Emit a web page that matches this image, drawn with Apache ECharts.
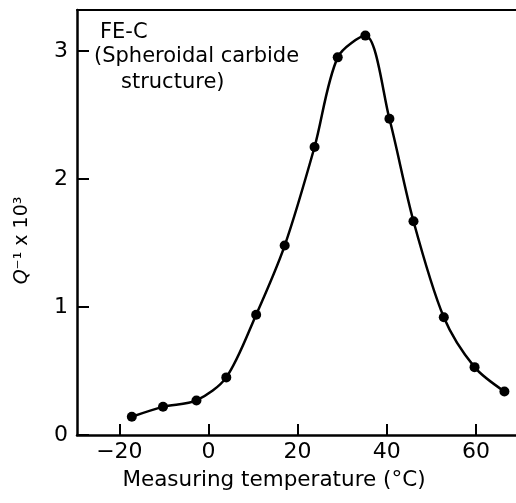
<!DOCTYPE html>
<html>
<head>
<meta charset="utf-8">
<script src="https://cdn.jsdelivr.net/npm/echarts@6/dist/echarts.min.js"></script>
<style>
html,body{margin:0;padding:0;background:#fff;}
#chart{width:516px;height:503px;}
</style>
</head>
<body>
<div id="chart"></div>
<script>
// Data
var temperatures = [-17.2, -10.2, -2.7, 4.0, 10.7, 17.1, 23.8, 29.0, 35.2, 40.6, 46.0, 52.8, 59.7, 66.4];
var qInverse = [0.143, 0.22, 0.27, 0.45, 0.94, 1.48, 2.25, 2.95, 3.12, 2.47, 1.67, 0.92, 0.53, 0.34];
var xTicks = [-20, 0, 20, 40, 60];
var yTicks = [0, 1, 2, 3];
var annotationLines = ['FE-C', '(Spheroidal carbide', 'structure)'];
var xTitle = 'Measuring temperature (°C)';

var FONT = 'DejaVu Sans';
var points = temperatures.map(function (t, i) { return [t, qInverse[i]]; });

var chart = echarts.init(document.getElementById('chart'));
chart.setOption({
  animation: false,
  backgroundColor: '#fff',
  grid: { left: 77, right: 0, top: 10, bottom: 68 },
  xAxis: [{
    type: 'value', min: -29.5, max: 69, position: 'bottom',
    axisLine: { show: true, onZero: false, lineStyle: { color: '#000', width: 2.5 } },
    axisTick: { show: true, inside: true, length: 11, customValues: xTicks, lineStyle: { color: '#000', width: 2 } },
    axisLabel: { customValues: xTicks, color: '#000', fontFamily: FONT, fontSize: 22, margin: 6,
      formatter: function (v) { return v < 0 ? '\u2212' + Math.abs(v) : String(v); } },
    splitLine: { show: false },
    name: xTitle, nameLocation: 'middle', nameGap: 34,
    nameTextStyle: { color: '#000', fontFamily: FONT, fontSize: 21.5, padding: [0, 45, 0, 0] }
  }, {
    type: 'value', min: -29.5, max: 69, position: 'top',
    axisLine: { show: true, onZero: false, lineStyle: { color: '#000', width: 2 } },
    axisTick: { show: false }, axisLabel: { show: false }, splitLine: { show: false }
  }],
  yAxis: {
    type: 'value', min: 0, max: 3.32,
    axisLine: { show: true, onZero: false, lineStyle: { color: '#000', width: 2.5 } },
    axisTick: { show: true, inside: true, length: 12, customValues: yTicks, lineStyle: { color: '#000', width: 2 } },
    axisLabel: { customValues: yTicks, color: '#000', fontFamily: FONT, fontSize: 22, margin: 9 },
    splitLine: { show: false },
    name: '{i|Q}\u207B\u00B9 x 10\u00B3', nameLocation: 'middle', nameGap: 45,
    nameTextStyle: { color: '#000', fontFamily: FONT, fontSize: 19, padding: [0, 36, 0, 0],
      rich: { i: { fontStyle: 'italic', fontFamily: FONT, fontSize: 19, color: '#000' } } }
  },
  series: [{
    type: 'line', data: points, smooth: 0.3,
    symbol: 'circle', symbolSize: 10,
    itemStyle: { color: '#000' },
    lineStyle: { color: '#000', width: 2.5 }
  }],
  graphic: [
    { type: 'text', left: 100, top: 22, style: { text: annotationLines[0], font: '21px "DejaVu Sans"', fill: '#000' } },
    { type: 'text', left: 94, top: 46, style: { text: annotationLines[1], font: '21px "DejaVu Sans"', fill: '#000' } },
    { type: 'text', left: 121, top: 72, style: { text: annotationLines[2], font: '21px "DejaVu Sans"', fill: '#000' } }
  ]
});
</script>
</body>
</html>
